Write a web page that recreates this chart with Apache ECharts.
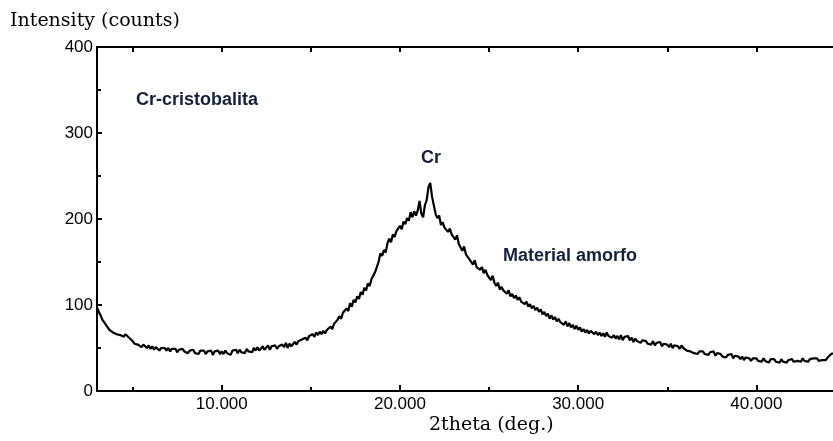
<!DOCTYPE html>
<html>
<head>
<meta charset="utf-8">
<script src="https://cdn.jsdelivr.net/npm/echarts@6/dist/echarts.min.js"></script>
<style>
html,body{margin:0;padding:0;background:#fff;}
#chart{width:833px;height:441px;}
</style>
</head>
<body>
<div id="chart"></div>
<script>
// X-ray diffraction scan: constant step in 2theta
const twoThetaStart = 3.0;
const twoThetaStep = 0.1;
const intensityCounts = [
  97,92,88,83,80,77,74,71,69,68,
  67,66,67,65,64,63,66,65,62,60,
  58,55,57,54,55,51,54,52,50,53,
  49,52,48,51,50,47,50,48,50,47,
  50,46,49,47,49,45,48,47,49,46,
  48,44,47,45,48,44,46,43,47,45,
  47,43,46,44,47,42,46,44,47,43,
  46,43,47,44,46,42,47,45,48,44,
  48,45,47,44,49,46,48,45,50,47,
  51,47,49,52,48,50,53,48,52,50,
  53,49,52,50,54,51,56,50,55,52,
  53,57,54,58,56,60,58,62,59,64,
  62,66,63,68,65,69,66,70,67,71,
  70,75,72,78,76,83,87,84,91,89,
  96,93,102,98,106,103,110,107,115,112,
  120,117,125,122,130,128,138,144,150,160,
  157,164,161,172,177,173,182,179,186,184,
  192,188,197,194,201,198,208,202,209,204,
  210,221,206,202,216,222,237,242,226,224,
  206,201,204,193,196,190,192,185,189,182,
  183,176,181,171,170,163,168,159,158,153,
  154,147,152,144,146,141,144,137,141,135,
  137,129,134,126,122,126,118,121,117,119,
  113,117,110,113,108,111,106,109,104,106,
  101,104,98,101,96,99,94,97,92,95,
  89,92,87,90,84,88,83,86,81,84,
  80,82,77,81,75,79,74,77,72,76,
  71,74,69,72,68,71,67,70,69,66,
  69,65,68,64,67,63,68,64,66,62,
  65,61,64,60,65,59,63,61,64,59,
  62,57,61,58,60,56,59,57,58,55,
  57,54,58,53,56,54,57,52,55,53,
  54,51,55,50,53,51,52,49,53,50,
  50,47,49,46,48,44,46,43,46,44,
  46,43,45,42,45,43,46,41,44,42,
  43,40,42,39,42,40,43,38,41,39,
  40,37,40,36,39,37,38,35,38,36,
  38,35,37,34,38,35,36,33,37,35,
  37,34,36,33,37,34,35,33,36,35,
  37,34,36,35,37,34,38,35,37,34,
  37,35,38,36,38,35,37,36,38,36,
  39,40,43,44
];
const xMin = 3, xMax = 44.3;
const xMajorTicks = [10, 20, 30, 40];
const xMinorTicks = [5, 15, 25, 35];
const xTopTicks = [5, 10, 15, 20, 25, 30, 35, 40];
const yMin = 0, yMax = 400, yInterval = 100;
const yTitle = 'Intensity (counts)';
const xTitle = '2theta (deg.)';
const notes = [
  {text: 'Cr-cristobalita', x: 136, y: 101},
  {text: 'Cr', x: 421, y: 159},
  {text: 'Material amorfo', x: 503, y: 257}
];

const seriesData = intensityCounts.map((v, i) => [+(twoThetaStart + i * twoThetaStep).toFixed(2), v]);

const chart = echarts.init(document.getElementById('chart'), null, {renderer: 'canvas'});
const lineCol = '#000';
const tickLabelFont = {fontFamily: 'Liberation Sans', fontSize: 17, color: '#000'};

chart.setOption({
  animation: false,
  backgroundColor: '#fff',
  grid: {left: 97, right: 0, top: 47, bottom: 50, containLabel: false},
  xAxis: [
    {
      type: 'value', min: xMin, max: xMax, position: 'bottom',
      axisLine: {show: true, lineStyle: {color: lineCol, width: 2}},
      axisTick: {show: true, inside: true, length: 6, customValues: xMajorTicks, lineStyle: {color: lineCol, width: 2}},
      axisLabel: {show: true, customValues: xMajorTicks, margin: 5, ...tickLabelFont,
        formatter: v => v.toFixed(3)},
      splitLine: {show: false}
    },
    {
      type: 'value', min: xMin, max: xMax, position: 'bottom',
      axisLine: {show: false},
      axisTick: {show: true, inside: true, length: 4, customValues: xMinorTicks, lineStyle: {color: lineCol, width: 2}},
      axisLabel: {show: false},
      splitLine: {show: false}
    },
    {
      type: 'value', min: xMin, max: xMax, position: 'top',
      axisLine: {show: true, lineStyle: {color: lineCol, width: 2}},
      axisTick: {show: true, inside: true, length: 5, customValues: xTopTicks, lineStyle: {color: lineCol, width: 2}},
      axisLabel: {show: false},
      splitLine: {show: false}
    }
  ],
  yAxis: {
    type: 'value', min: yMin, max: yMax, interval: yInterval,
    axisLine: {show: true, lineStyle: {color: lineCol, width: 2}},
    axisTick: {show: true, inside: true, length: 5, lineStyle: {color: lineCol, width: 2}},
    minorTick: {show: true, splitNumber: 2, length: 4, lineStyle: {color: lineCol, width: 2}},
    axisLabel: {show: true, margin: 4, ...tickLabelFont},
    splitLine: {show: false}
  },
  graphic: [
    {type: 'text', left: 10, top: 12, style: {text: yTitle, font: '19px "DejaVu Serif"', fill: '#000'}},
    {type: 'text', left: 429, top: 416, style: {text: xTitle, font: '19px "DejaVu Serif"', fill: '#000'}},
    ...notes.map(n => ({type: 'text', left: n.x, top: n.y - 10,
      style: {text: n.text, font: 'bold 18px "Liberation Sans"', fill: '#14213d'}}))
  ],
  series: [{
    type: 'line', xAxisIndex: 0, data: seriesData, showSymbol: false, symbol: 'none',
    lineStyle: {color: '#000', width: 2.2}, silent: true
  }]
});
</script>
</body>
</html>
